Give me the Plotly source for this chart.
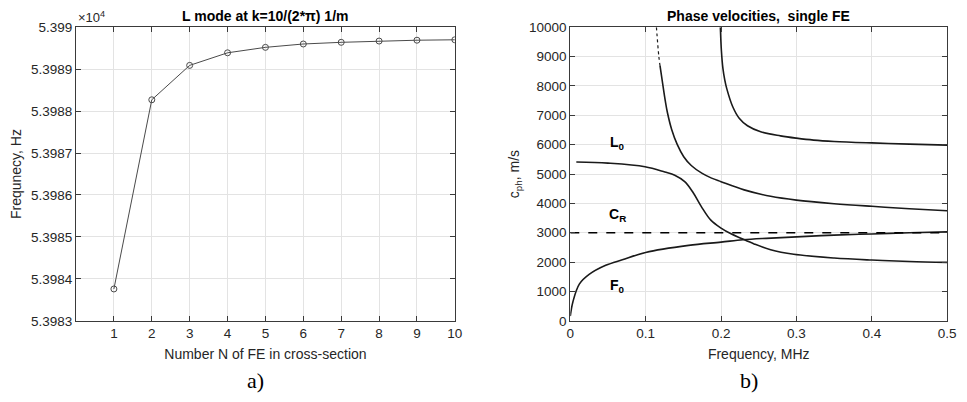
import plotly.graph_objects as go

# ---- (a) convergence of the L mode frequency ----
n_fe = [1, 2, 3, 4, 5, 6, 7, 8, 9, 10]
freq_hz = [53983.76, 53988.27, 53989.09, 53989.39, 53989.52,
           53989.60, 53989.64, 53989.67, 53989.69, 53989.70]
freq_ticks = [53983, 53984, 53985, 53986, 53987, 53988, 53989, 53990]
freq_ticktext = ["5.3983", "5.3984", "5.3985", "5.3986", "5.3987",
                 "5.3988", "5.3989", "5.399"]

# ---- (b) phase velocity dispersion curves, single FE ----
f0_f = [0, 0.0035, 0.012, 0.025, 0.047, 0.069, 0.1, 0.157, 0.2, 0.229,
        0.26, 0.3, 0.35, 0.4, 0.45, 0.5]
f0_c = [160, 650, 1250, 1580, 1890, 2080, 2330, 2570, 2680, 2760,
        2810, 2860, 2920, 2960, 3000, 3030]

l0_f = [0.008, 0.05, 0.0991, 0.1254, 0.1386, 0.1518, 0.1627, 0.1737, 0.1868,
        0.2, 0.2132, 0.2263, 0.2439, 0.2658, 0.2965, 0.35, 0.4, 0.45, 0.5]
l0_c = [5410, 5370, 5250, 5070, 4960, 4740, 4380, 3900, 3420,
        3160, 2965, 2815, 2620, 2424, 2270, 2140, 2070, 2020, 1990]

m2_top_f = [0.1143, 0.1175, 0.119]
m2_top_c = [10000, 9000, 8700]
m2_f = [0.119, 0.123, 0.126, 0.129, 0.1345, 0.142, 0.1505, 0.1605, 0.175,
        0.1875, 0.2, 0.2307, 0.2658, 0.3, 0.35, 0.4, 0.45, 0.5]
m2_c = [8700, 8000, 7500, 7080, 6520, 6000, 5590, 5290, 5020,
        4860, 4740, 4460, 4240, 4110, 3990, 3900, 3820, 3750]

m3_f = [0.1991, 0.2005, 0.2025, 0.205, 0.2077, 0.2154, 0.2241, 0.2351,
        0.2526, 0.2789, 0.3, 0.3228, 0.35, 0.4, 0.45, 0.5]
m3_c = [10000, 9200, 8600, 8200, 7900, 7300, 6900, 6644,
        6440, 6300, 6222, 6156, 6110, 6060, 6020, 5985]

rayleigh_f = [0, 0.5]
rayleigh_c = [3000, 3000]

FONT = "Liberation Sans, Arial, Helvetica, sans-serif"
SERIF = "Liberation Serif, Times New Roman, serif"
TICK_COLOR = "#262626"
GRID = "#e3e3e3"
AX_LINE = "#3a3a3a"

fig = go.Figure()

fig.add_trace(go.Scatter(
    x=n_fe, y=freq_hz, mode="lines+markers", xaxis="x", yaxis="y",
    line=dict(color="#4a4a4a", width=1),
    marker=dict(symbol="circle-open", size=6, color="#4a4a4a",
                line=dict(width=1)),
    showlegend=False))

curve = dict(color="#1a1a1a", width=1.6)
for fx, cy in [(f0_f, f0_c), (l0_f, l0_c), (m2_f, m2_c), (m3_f, m3_c)]:
    fig.add_trace(go.Scatter(
        x=fx, y=cy, mode="lines", xaxis="x2", yaxis="y2",
        line=dict(shape="spline", smoothing=1.0, **curve),
        showlegend=False))
fig.add_trace(go.Scatter(
    x=m2_top_f, y=m2_top_c, mode="lines", xaxis="x2", yaxis="y2",
    line=dict(color="#1a1a1a", width=1.2, dash="dot", shape="spline",
              smoothing=1.0),
    showlegend=False))
fig.add_trace(go.Scatter(
    x=rayleigh_f, y=rayleigh_c, mode="lines", xaxis="x2", yaxis="y2",
    line=dict(color="#000000", width=1.6, dash="dash"),
    showlegend=False))

axis_common = dict(
    showline=True, linecolor=AX_LINE, linewidth=1, mirror="ticks",
    ticks="inside", ticklen=5, tickcolor=AX_LINE, tickwidth=1,
    showgrid=True, gridcolor=GRID, gridwidth=1, zeroline=False,
    tickfont=dict(family=FONT, size=13.5, color=TICK_COLOR),
    title_font=dict(family=FONT, size=14, color=TICK_COLOR),
)

y_dom = [76 / 402, 381 / 402]

fig.update_layout(
    width=967, height=402,
    margin=dict(l=0, r=0, t=0, b=0),
    paper_bgcolor="white", plot_bgcolor="white",
    font=dict(family=FONT, color=TICK_COLOR),
    xaxis=dict(domain=[73 / 967, 457 / 967], range=[0, 10],
               tickvals=n_fe, anchor="y",
               title=dict(text="Number N of FE in cross-section", standoff=9),
               **axis_common),
    yaxis=dict(domain=y_dom, range=[53983, 53990],
               tickvals=freq_ticks, ticktext=freq_ticktext, anchor="x",
               title=dict(text="Frequnecy, Hz", standoff=6),
               **axis_common),
    xaxis2=dict(domain=[574 / 967, 956 / 967], range=[0, 0.5],
                tickvals=[0, 0.1, 0.2, 0.3, 0.4, 0.5],
                ticktext=["0", "0.1", "0.2", "0.3", "0.4", "0.5"],
                anchor="y2",
                title=dict(text="Frequency, MHz", standoff=9),
                **axis_common),
    yaxis2=dict(domain=y_dom, range=[0, 10000], dtick=1000, tickformat="d",
                anchor="x2",
                title=dict(text="c<sub>ph</sub>, m/s", standoff=6),
                **axis_common),
)

annotations = [
    dict(text="<b>L mode at k=10/(2*π) 1/m</b>", x=0.5, y=1, xref="x domain",
         yref="y domain", xanchor="center", yanchor="bottom", yshift=1,
         showarrow=False, font=dict(family=FONT, size=14, color="#000")),
    dict(text="×10<sup>4</sup>", x=0, y=1, xref="x domain", yref="y domain",
         xanchor="left", yanchor="bottom", yshift=0, showarrow=False,
         font=dict(family=FONT, size=13, color=TICK_COLOR)),
    dict(text="<b>Phase velocities,  single FE</b>", x=0.5, y=1,
         xref="x2 domain", yref="y2 domain", xanchor="center",
         yanchor="bottom", yshift=1, showarrow=False,
         font=dict(family=FONT, size=14, color="#000")),
    dict(text="<b>L<sub>0</sub></b>", x=0.063, y=6050, xref="x2", yref="y2",
         showarrow=False, font=dict(family=FONT, size=14, color="#000")),
    dict(text="<b>C<sub>R</sub></b>", x=0.063, y=3600, xref="x2", yref="y2",
         showarrow=False, font=dict(family=FONT, size=14, color="#000")),
    dict(text="<b>F<sub>0</sub></b>", x=0.062, y=1200, xref="x2", yref="y2",
         showarrow=False, font=dict(family=FONT, size=14, color="#000")),
    dict(text="a)", x=255 / 967, y=1 - 388 / 402, xref="paper", yref="paper",
         xanchor="center", yanchor="middle", showarrow=False,
         font=dict(family=SERIF, size=22, color="#000")),
    dict(text="b)", x=755 / 967, y=1 - 388 / 402, xref="paper", yref="paper",
         xanchor="center", yanchor="middle", showarrow=False,
         font=dict(family=SERIF, size=22, color="#000")),
]
fig.update_layout(annotations=annotations)

fig.write_html("out.html")
